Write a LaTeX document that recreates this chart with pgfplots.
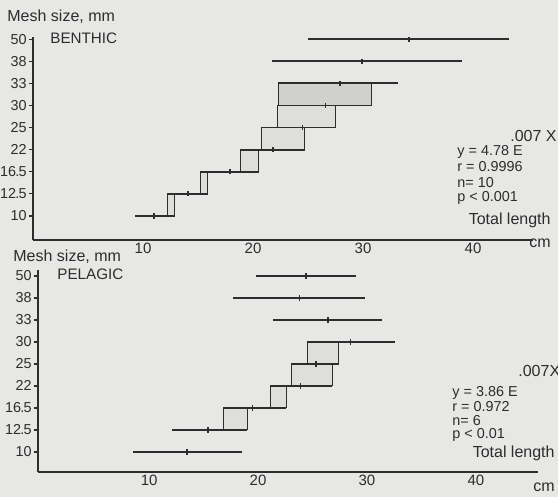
\documentclass[border=0pt]{standalone}
\usepackage{pgfplots}
\pgfplotsset{compat=1.18}
\usepackage{pgfplotstable}
\usepackage{fontspec}
\setmainfont{Liberation Sans}

\definecolor{paper}{RGB}{231,231,229}
\definecolor{ink}{RGB}{45,45,45}
\definecolor{shade}{RGB}{222,222,219}
\definecolor{shadedark}{RGB}{208,208,205}

% level: 1=10, 2=12.5, 3=16.5, 4=22, 5=25, 6=30, 7=33, 8=38, 9=50 mm
\pgfplotstableread{
lev lo mean hi
1 9.3 11.0 12.9
2 12.2 14.1 15.9
3 15.2 17.9 20.5
4 18.9 21.8 24.7
5 20.8 24.5 27.5
6 22.2 26.6 30.8
7 22.3 27.9 33.2
8 21.7 29.9 39.0
9 25.0 34.2 43.3
}\benthic

\pgfplotstableread{
lev lo mean hi
1 8.5 13.5 18.5
2 12.1 15.4 19.0
3 16.8 19.5 22.6
4 21.1 23.9 26.8
5 23.1 25.3 27.4
6 24.5 28.5 32.6
7 21.4 26.4 31.4
8 17.7 23.8 29.8
9 19.8 24.4 29.0
}\pelagic

\newcommand{\dec}[2]{#1\kern-0.4pt.\kern-0.4pt#2}

\pgfplotsset{
  meshaxis/.style={
    scale only axis,
    width=250pt,
    axis lines=left,
    axis line style={-, ink, line width=0.8pt},
    ytick={1,...,9},
    yticklabels={10,\dec{12}{5},\dec{16}{5},22,25,30,33,38,50},
    ytick align=outside,
    y tick style={ink, line width=0.6pt},
    major tick length=2pt,
    xtick={10,20,30,40},
    xticklabels={10,20,30,40},
    minor xtick={5,15,25,35},
    xtick align=inside,
    x tick style={ink, line width=0.6pt},
    every x tick/.style={draw=none},
    minor tick length=3pt,
    y tick label style={inner sep=1pt, text=ink, font=\fontsize{7.2}{8}\selectfont},
    x tick label style={inner sep=1.5pt, text=ink, font=\fontsize{7.5}{8}\selectfont},
    clip=false,
  },
  range/.style={
    only marks, mark=|, mark size=1.3pt, ink,
    mark options={line width=0.8pt},
    error bars/.cd, x dir=both, x explicit, error mark=none,
    error bar style={line width=0.9pt, ink},
  },
  box/.style={fill=shade, draw=ink, line width=0.5pt},
}

\begin{document}
\begin{tikzpicture}
\fill[paper] (0,0) rectangle (279pt,-248.5pt);
\useasboundingbox (0,0) rectangle (279pt,-248.5pt);

% BENTHIC
\begin{axis}[meshaxis, at={(16.5pt,-120pt)}, anchor=south west,
  height=101.5pt, xmin=0, xmax=45.45, ymin=-0.09, ymax=9.1]
\addplot[box] coordinates {(12.2,1) (12.2,2) (12.9,2) (12.9,1)} -- cycle;
\addplot[box] coordinates {(15.2,2) (15.2,3) (15.9,3) (15.9,2)} -- cycle;
\addplot[box] coordinates {(18.9,3) (18.9,4) (20.5,4) (20.5,3)} -- cycle;
\addplot[box] coordinates {(20.8,4) (20.8,5) (24.7,5) (24.7,4)} -- cycle;
\addplot[box] coordinates {(22.2,5) (22.2,6) (27.5,6) (27.5,5)} -- cycle;
\addplot[box, fill=shadedark] coordinates {(22.3,6) (22.3,7) (30.8,7) (30.8,6)} -- cycle;
\addplot[range] table[x=mean, y=lev,
  x error plus expr=\thisrow{hi}-\thisrow{mean},
  x error minus expr=\thisrow{mean}-\thisrow{lo}] {\benthic};
\end{axis}

% PELAGIC
\begin{axis}[meshaxis, at={(19pt,-236pt)}, anchor=south west,
  height=101pt, xmin=-0.2, xmax=45.7, ymin=0.09, ymax=9.27]
\addplot[box] coordinates {(16.8,2) (16.8,3) (19.0,3) (19.0,2)} -- cycle;
\addplot[box] coordinates {(21.1,3) (21.1,4) (22.6,4) (22.6,3)} -- cycle;
\addplot[box] coordinates {(23.1,4) (23.1,5) (26.8,5) (26.8,4)} -- cycle;
\addplot[box] coordinates {(24.5,5) (24.5,6) (27.4,6) (27.4,5)} -- cycle;
\addplot[range] table[x=mean, y=lev,
  x error plus expr=\thisrow{hi}-\thisrow{mean},
  x error minus expr=\thisrow{mean}-\thisrow{lo}] {\pelagic};
\end{axis}

\begin{scope}[every node/.style={inner sep=0pt, text=ink, font=\fontsize{8}{9.6}\selectfont}]
% BENTHIC labels
\node[anchor=west] at (3.5pt,-8.5pt) {Mesh size, mm};
\node[anchor=west, font=\fontsize{7.6}{9}\selectfont] at (25pt,-19pt) {BENTHIC};
\node[anchor=west] at (255pt,-68pt) {.007 X};
\begin{scope}[every node/.append style={anchor=west, font=\fontsize{7.2}{8}\selectfont}]
\node at (228.5pt,-76pt) {y = 4.78 E};
\node at (228.5pt,-83.5pt) {r = 0.9996};
\node at (228.5pt,-91.5pt) {n= 10};
\node at (228.5pt,-99pt) {p < 0.001};
\end{scope}
\node[anchor=east] at (275.5pt,-110pt) {Total length};
\node[anchor=east] at (275.5pt,-121.5pt) {cm};
% PELAGIC labels
\node[anchor=west] at (6.5pt,-128.5pt) {Mesh size, mm};
\node[anchor=west, font=\fontsize{7.6}{9}\selectfont] at (28.5pt,-137pt) {PELAGIC};
\node[anchor=west] at (259pt,-185.5pt) {.007X};
\begin{scope}[every node/.append style={anchor=west, font=\fontsize{7.2}{8}\selectfont}]
\node at (226pt,-196.5pt) {y = 3.86 E};
\node at (226pt,-203.5pt) {r = 0.972};
\node at (226pt,-210.5pt) {n= 6};
\node at (226pt,-217.5pt) {p < 0.01};
\end{scope}
\node[anchor=east] at (277.5pt,-226.5pt) {Total length};
\node[anchor=east] at (277.5pt,-243.5pt) {cm};
\end{scope}
\end{tikzpicture}
\end{document}
